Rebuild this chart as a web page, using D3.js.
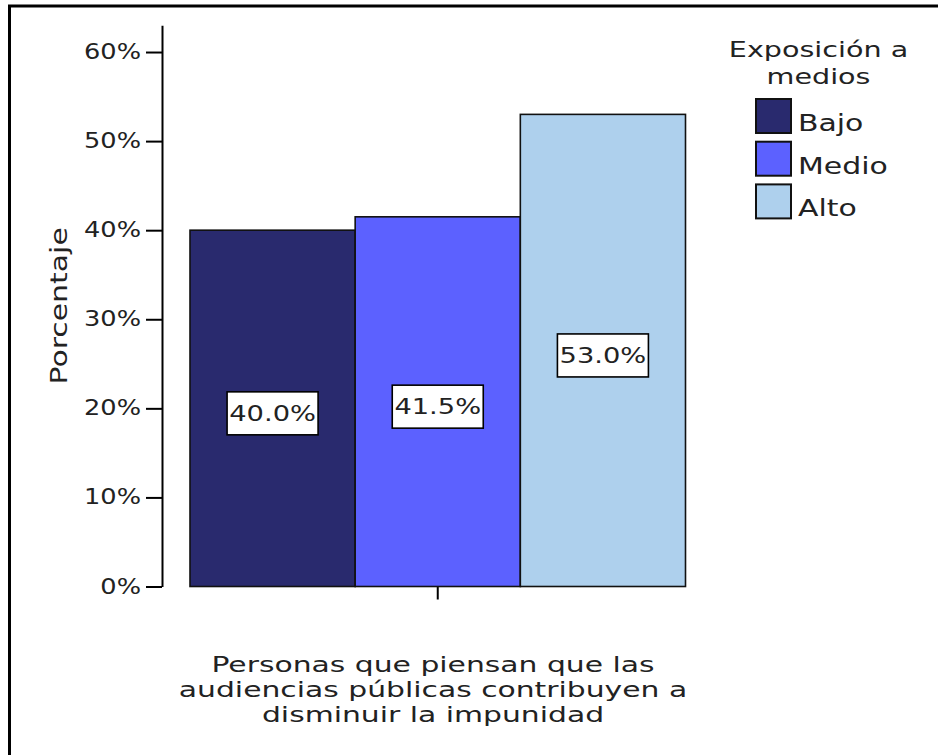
<!DOCTYPE html>
<html>
<head>
<meta charset="utf-8">
<script src="https://cdn.jsdelivr.net/npm/d3@7"></script>
<style>
  html, body { margin: 0; padding: 0; background: #fff; }
  svg { display: block; }
  text { font-family: "DejaVu Sans", Verdana, sans-serif; fill: #222; }
</style>
</head>
<body>
<script>
// ---- data ----
const categories = ["Bajo", "Medio", "Alto"];
const values = [40.0, 41.5, 53.0];
const colors = ["#292a6e", "#5c61ff", "#aed0ed"];
const yTicks = [0, 10, 20, 30, 40, 50, 60];
const yTickLabels = ["0%", "10%", "20%", "30%", "40%", "50%", "60%"];
const groupName = ["Personas que piensan que las audiencias públicas contribuyen a disminuir la impunidad"];
const xTitleLines = ["Personas que piensan que las", "audiencias públicas contribuyen a", "disminuir la impunidad"];
const yTitle = "Porcentaje";
const legendTitleLines = ["Exposición a", "medios"];

// ---- setup ----
const W = 938, H = 755;
const SX = 1.3; // horizontal glyph stretch of the original renderer
const svg = d3.select("body").append("svg").attr("width", W).attr("height", H);

// outer frame (open on right/bottom, as in the reference)
svg.append("rect").attr("x", 9.5).attr("y", 6).attr("width", 1200).attr("height", 1200)
  .attr("fill", "none").attr("stroke", "#000").attr("stroke-width", 3);

const y = d3.scaleLinear().domain([0, 63]).range([586.5, 25.3]);
const xGroup = d3.scaleBand().domain(groupName).range([190, 685.5]);
const x = d3.scaleBand().domain(categories).range([xGroup(groupName[0]), xGroup(groupName[0]) + xGroup.bandwidth()]).padding(0);

// y axis
const yAxis = d3.axisLeft(y).tickValues(yTicks).tickFormat((d, i) => yTickLabels[i])
  .tickSize(16).tickSizeOuter(0).tickPadding(5);
const gy = svg.append("g").attr("transform", "translate(162,0)").call(yAxis);
gy.attr("font-family", null).attr("font-size", null);
gy.select(".domain").attr("stroke", "#000").attr("stroke-width", 2);
gy.selectAll(".tick line").attr("stroke", "#000").attr("stroke-width", 2);
gy.selectAll(".tick text")
  .attr("x", 0)
  .attr("transform", `translate(-21,0) scale(1.25,1)`)
  .style("font-size", "20.5px").attr("fill", "#222");

// x axis (single group tick only)
const xAxis = d3.axisBottom(xGroup).tickSize(13).tickSizeOuter(0).tickFormat("");
const gx = svg.append("g").attr("transform", `translate(0,${y(0)})`).call(xAxis);
gx.select(".domain").remove();
gx.selectAll(".tick line").attr("stroke", "#000").attr("stroke-width", 2);

// bars
svg.append("g").selectAll("rect").data(values).join("rect")
  .attr("x", (d, i) => x(categories[i]))
  .attr("y", d => y(d))
  .attr("width", x.bandwidth())
  .attr("height", d => y(0) - y(d))
  .attr("fill", (d, i) => colors[i])
  .attr("stroke", "#111").attr("stroke-width", 1.6);

// bar value labels
const lab = svg.append("g").selectAll("g").data(values).join("g")
  .attr("transform", (d, i) => `translate(${x(categories[i]) + x.bandwidth() / 2},${(y(d) + y(0)) / 2 + 5})`);
lab.append("rect").attr("x", -45.5).attr("y", -21.5).attr("width", 91).attr("height", 43)
  .attr("fill", "#fff").attr("stroke", "#000").attr("stroke-width", 1.6);
lab.append("text").attr("text-anchor", "middle").attr("dy", "0.36em")
  .attr("transform", `scale(${SX},1)`)
  .style("font-size", "21px")
  .text(d => d3.format(".1f")(d) + "%");

// y title
svg.append("text")
  .attr("transform", `translate(67,${(y(0) + y(63)) / 2}) rotate(-90) scale(${SX},1)`)
  .attr("text-anchor", "middle").style("font-size", "23px").text(yTitle);

// x title
svg.append("g").selectAll("text").data(xTitleLines).join("text")
  .attr("transform", (d, i) => `translate(433,${672 + i * 25}) scale(1.42,1)`)
  .attr("text-anchor", "middle").style("font-size", "21px").text(d => d);

// legend
const lg = svg.append("g");
lg.selectAll("text.lt").data(legendTitleLines).join("text").attr("class", "lt")
  .attr("transform", (d, i) => `translate(818.5,${57 + i * 27}) scale(${SX},1)`)
  .attr("text-anchor", "middle").style("font-size", "22px").text(d => d);
const li = lg.selectAll("g.item").data(categories).join("g").attr("class", "item")
  .attr("transform", (d, i) => `translate(756,${99 + i * 42.7})`);
li.append("rect").attr("width", 35).attr("height", 34)
  .attr("fill", (d, i) => colors[i]).attr("stroke", "#111").attr("stroke-width", 2);
li.append("text").attr("transform", `translate(42,32) scale(${SX},1)`)
  .style("font-size", "23px").text(d => d);
</script>
</body>
</html>
